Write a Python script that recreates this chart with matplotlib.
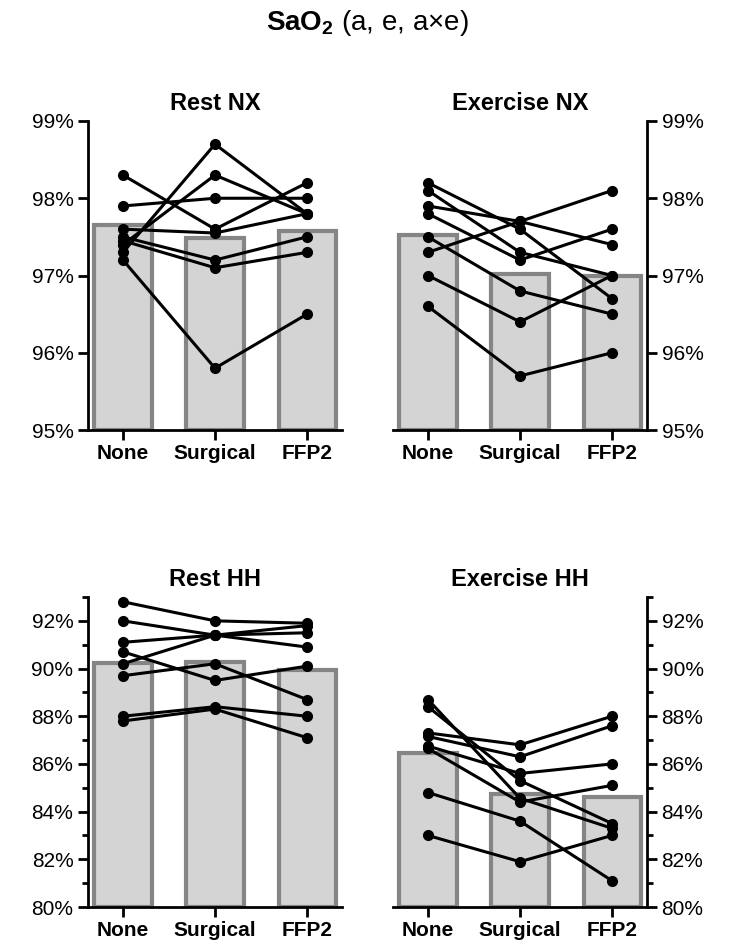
import numpy as np
import matplotlib
matplotlib.use('Agg')
from matplotlib import pyplot as plt
from matplotlib.ticker import MultipleLocator, FuncFormatter

plt.rcParams['font.family'] = ['Liberation Sans', 'DejaVu Sans']
plt.rcParams['mathtext.fontset'] = 'custom'
plt.rcParams['mathtext.rm'] = 'Liberation Sans'
plt.rcParams['mathtext.bf'] = 'Liberation Sans:bold'

masks = ['None', 'Surgical', 'FFP2']

# per-subject values (None, Surgical, FFP2)
rest_nx = [[98.3, 97.6, 98.2],
           [97.9, 98.0, 98.0],
           [97.3, 98.7, 97.8],
           [97.4, 98.3, 97.8],
           [97.6, 97.55, 97.8],
           [97.5, 97.2, 97.5],
           [97.45, 97.1, 97.3],
           [97.2, 95.8, 96.5]]
rest_nx_bar = [97.65, 97.49, 97.58]

exer_nx = [[98.2, 97.6, 96.7],
           [98.1, 97.3, 97.0],
           [97.9, 97.7, 97.4],
           [97.8, 97.2, 97.6],
           [97.5, 96.8, 96.5],
           [97.3, 97.7, 98.1],
           [97.0, 96.4, 97.0],
           [96.6, 95.7, 96.0]]
exer_nx_bar = [97.52, 97.02, 97.0]

rest_hh = [[92.8, 92.0, 91.9],
           [92.0, 91.4, 90.9],
           [91.1, 91.4, 91.8],
           [90.7, 89.5, 90.1],
           [90.2, 91.4, 91.5],
           [89.7, 90.2, 88.7],
           [88.0, 88.4, 88.0],
           [87.8, 88.3, 87.1]]
rest_hh_bar = [90.22, 90.27, 89.95]

exer_hh = [[88.7, 84.56, 83.3],
           [88.4, 85.3, 83.5],
           [87.3, 86.8, 88.0],
           [87.15, 86.3, 87.6],
           [86.75, 85.6, 86.0],
           [86.65, 84.4, 85.1],
           [84.8, 83.6, 81.1],
           [83.0, 81.9, 83.0]]
exer_hh_bar = [86.47, 84.73, 84.6]

W, H = 734, 950
fig = plt.figure(figsize=(W / 100, H / 100), dpi=100)


def px_axes(x0, x1, ytop, ybot):
    return fig.add_axes([x0 / W, (H - ybot) / H, (x1 - x0) / W, (ybot - ytop) / H])


def panel(ax, data, bars, title, ylim, major, minor, right):
    x = np.arange(len(masks))
    ax.bar(x, np.array(bars) - ylim[0], bottom=ylim[0], width=0.62,
           color='#d4d4d4', edgecolor='#858585', linewidth=3, zorder=1)
    for subj in data:
        ax.plot(x, subj, color='black', lw=2.2, marker='o', ms=7, zorder=3,
                clip_on=False)
    ax.set_xlim(-0.38, 2.38)
    ax.set_ylim(*ylim)
    ax.set_xticks(x)
    ax.set_xticklabels(masks, fontweight='bold', fontsize=15)
    ax.yaxis.set_major_locator(MultipleLocator(major))
    if minor:
        ax.yaxis.set_minor_locator(MultipleLocator(minor))
    ax.yaxis.set_major_formatter(FuncFormatter(lambda v, p: f'{v:.0f}%'))
    ax.tick_params(axis='both', which='major', length=7, width=2, labelsize=15)
    ax.tick_params(axis='y', which='minor', length=4, width=2)
    ax.tick_params(axis='x', pad=3)
    ax.spines['top'].set_visible(False)
    for s in ['left', 'right', 'bottom']:
        ax.spines[s].set_linewidth(2)
    if right:
        ax.spines['left'].set_visible(False)
        ax.yaxis.tick_right()
    else:
        ax.spines['right'].set_visible(False)
    ax.set_title(title, fontweight='bold', fontsize=17, pad=8)


ax1 = px_axes(88, 342, 121, 430)
panel(ax1, rest_nx, rest_nx_bar, 'Rest NX', (95, 99), 1, None, False)
ax2 = px_axes(393, 647, 121, 430)
panel(ax2, exer_nx, exer_nx_bar, 'Exercise NX', (95, 99), 1, None, True)
ax3 = px_axes(88, 342, 597, 907)
panel(ax3, rest_hh, rest_hh_bar, 'Rest HH', (80, 93), 2, 1, False)
ax4 = px_axes(393, 647, 597, 907)
panel(ax4, exer_hh, exer_hh_bar, 'Exercise HH', (80, 93), 2, 1, True)

fig.text(0.5, 1 - 23 / H, r'$\mathbf{SaO}_\mathbf{2}$ (a, e, a×e)',
         ha='center', va='center', fontsize=20)

fig.savefig('out.png', dpi=100)
